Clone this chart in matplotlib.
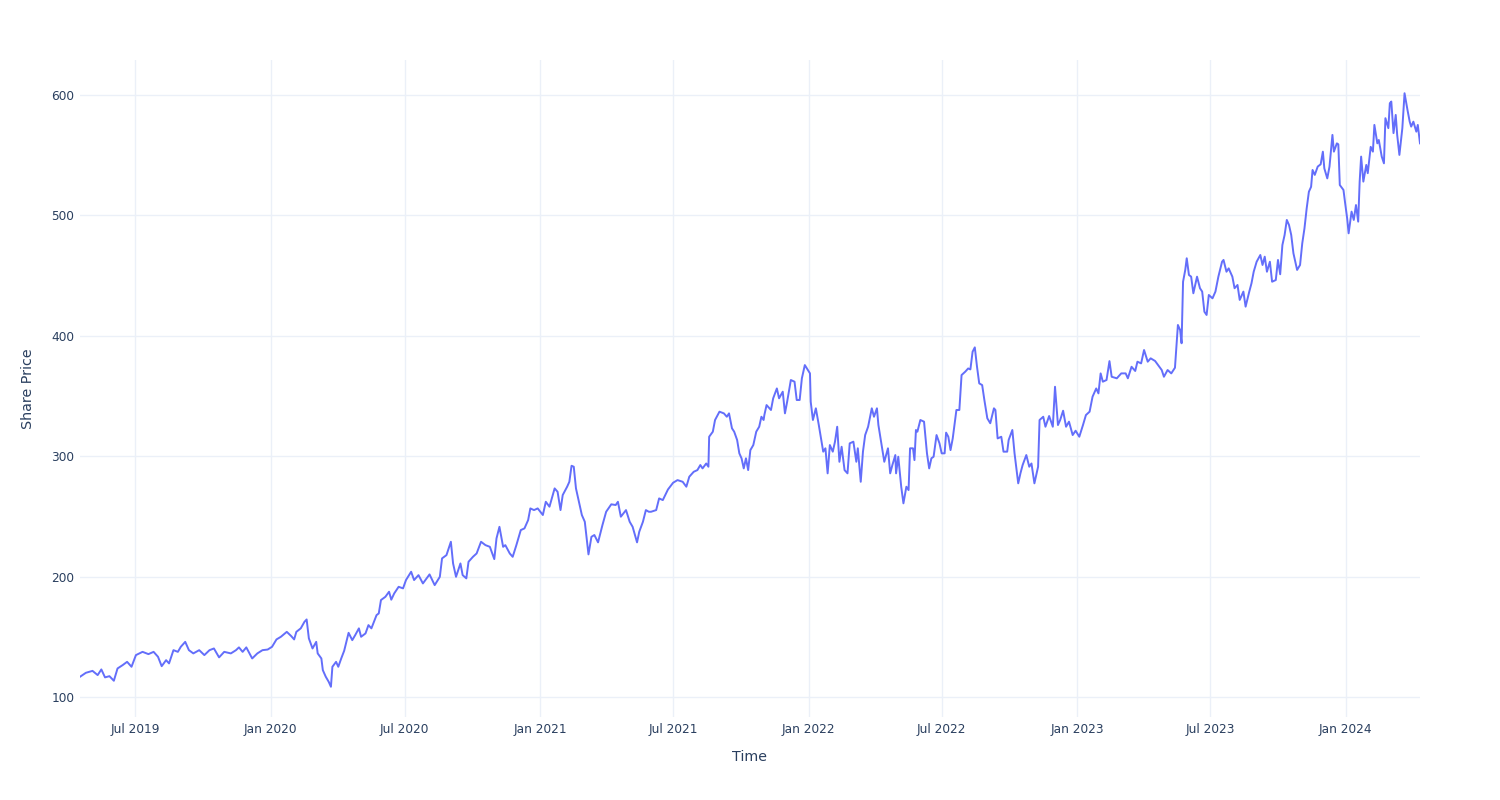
import pandas as pd
import matplotlib.pyplot as plt
import matplotlib.dates as mdates

# Share price readings (date, price)
dates = [
    "2019-04-17", "2019-04-25", "2019-05-04", "2019-05-11", "2019-05-16", "2019-05-21", "2019-05-27",
    "2019-06-02", "2019-06-07", "2019-06-14", "2019-06-20", "2019-06-26", "2019-07-02", "2019-07-11",
    "2019-07-19", "2019-07-26", "2019-08-01", "2019-08-06", "2019-08-12", "2019-08-16", "2019-08-22",
    "2019-08-28", "2019-09-01", "2019-09-07", "2019-09-12", "2019-09-18", "2019-09-26", "2019-10-03",
    "2019-10-10", "2019-10-16", "2019-10-23", "2019-10-30", "2019-11-08", "2019-11-15", "2019-11-19",
    "2019-11-24", "2019-11-29", "2019-12-07", "2019-12-14", "2019-12-21", "2019-12-28",
    "2020-01-03", "2020-01-09", "2020-01-15", "2020-01-23", "2020-01-29", "2020-02-02", "2020-02-05",
    "2020-02-11", "2020-02-16", "2020-02-19", "2020-02-22", "2020-02-27", "2020-03-03", "2020-03-05",
    "2020-03-10", "2020-03-12", "2020-03-16", "2020-03-20", "2020-03-23", "2020-03-25", "2020-03-30",
    "2020-04-02", "2020-04-06", "2020-04-10", "2020-04-16", "2020-04-21", "2020-04-25", "2020-04-30",
    "2020-05-03", "2020-05-09", "2020-05-13", "2020-05-17", "2020-05-24", "2020-05-27", "2020-05-30",
    "2020-06-05", "2020-06-10", "2020-06-13", "2020-06-17", "2020-06-23", "2020-06-29", "2020-07-03",
    "2020-07-10", "2020-07-14", "2020-07-20", "2020-07-26", "2020-08-04", "2020-08-11", "2020-08-18",
    "2020-08-21", "2020-08-27", "2020-09-02", "2020-09-05", "2020-09-09", "2020-09-15", "2020-09-18",
    "2020-09-23", "2020-09-26", "2020-10-02", "2020-10-07", "2020-10-13", "2020-10-19", "2020-10-25",
    "2020-10-31", "2020-11-03", "2020-11-07", "2020-11-12", "2020-11-15", "2020-11-21", "2020-11-25",
    "2020-11-30", "2020-12-06", "2020-12-11", "2020-12-16", "2020-12-19", "2020-12-24", "2020-12-29",
    "2021-01-05", "2021-01-09", "2021-01-14", "2021-01-21", "2021-01-25", "2021-01-29", "2021-02-01",
    "2021-02-07", "2021-02-10", "2021-02-13", "2021-02-16", "2021-02-19", "2021-02-24", "2021-02-27",
    "2021-03-03", "2021-03-05", "2021-03-08", "2021-03-12", "2021-03-16", "2021-03-21", "2021-03-27",
    "2021-04-01", "2021-04-08", "2021-04-14", "2021-04-17", "2021-04-21", "2021-04-28", "2021-05-03",
    "2021-05-07", "2021-05-13", "2021-05-16", "2021-05-21", "2021-05-25", "2021-05-29", "2021-06-01",
    "2021-06-08", "2021-06-12", "2021-06-17", "2021-06-24", "2021-07-01", "2021-07-07", "2021-07-14",
    "2021-07-19", "2021-07-23", "2021-07-29", "2021-08-03", "2021-08-07", "2021-08-10", "2021-08-15",
    "2021-08-18", "2021-08-19", "2021-08-24", "2021-08-27", "2021-09-02", "2021-09-08", "2021-09-12",
    "2021-09-15", "2021-09-19", "2021-09-22", "2021-09-26", "2021-09-29", "2021-10-02", "2021-10-05",
    "2021-10-08", "2021-10-11", "2021-10-14", "2021-10-18", "2021-10-22", "2021-10-26", "2021-10-29",
    "2021-11-01", "2021-11-02", "2021-11-05", "2021-11-11", "2021-11-14", "2021-11-19", "2021-11-22",
    "2021-11-27", "2021-11-30", "2021-12-03", "2021-12-08", "2021-12-13", "2021-12-16", "2021-12-20",
    "2021-12-23", "2021-12-27",
    "2022-01-03", "2022-01-04", "2022-01-07", "2022-01-11", "2022-01-15", "2022-01-18", "2022-01-21",
    "2022-01-24", "2022-01-27", "2022-01-30", "2022-02-03", "2022-02-06", "2022-02-09", "2022-02-12",
    "2022-02-15", "2022-02-19", "2022-02-23", "2022-02-26", "2022-03-03", "2022-03-07", "2022-03-09",
    "2022-03-13", "2022-03-16", "2022-03-19", "2022-03-23", "2022-03-28", "2022-03-31", "2022-04-04",
    "2022-04-06", "2022-04-10", "2022-04-14", "2022-04-19", "2022-04-22", "2022-04-25", "2022-04-29",
    "2022-04-30", "2022-05-03", "2022-05-07", "2022-05-10", "2022-05-14", "2022-05-17", "2022-05-19",
    "2022-05-23", "2022-05-25", "2022-05-27", "2022-05-29", "2022-06-02", "2022-06-07", "2022-06-11",
    "2022-06-14", "2022-06-17", "2022-06-20", "2022-06-24", "2022-06-28", "2022-07-01", "2022-07-05",
    "2022-07-07", "2022-07-10", "2022-07-13", "2022-07-16", "2022-07-21", "2022-07-25", "2022-07-28",
    "2022-08-02", "2022-08-06", "2022-08-09", "2022-08-12", "2022-08-15", "2022-08-18", "2022-08-21",
    "2022-08-25", "2022-08-28", "2022-09-01", "2022-09-05", "2022-09-10", "2022-09-12", "2022-09-15",
    "2022-09-20", "2022-09-23", "2022-09-28", "2022-09-30", "2022-10-05", "2022-10-08", "2022-10-13",
    "2022-10-16", "2022-10-19", "2022-10-24", "2022-10-28", "2022-10-31", "2022-11-04", "2022-11-09",
    "2022-11-11", "2022-11-16", "2022-11-19", "2022-11-24", "2022-11-29", "2022-12-02", "2022-12-06",
    "2022-12-09", "2022-12-13", "2022-12-17", "2022-12-21", "2022-12-26", "2022-12-30",
    "2023-01-04", "2023-01-09", "2023-01-13", "2023-01-18", "2023-01-22", "2023-01-27", "2023-01-30",
    "2023-02-02", "2023-02-05", "2023-02-10", "2023-02-14", "2023-02-17", "2023-02-24", "2023-03-02",
    "2023-03-08", "2023-03-11", "2023-03-16", "2023-03-21", "2023-03-24", "2023-03-29", "2023-04-02",
    "2023-04-07", "2023-04-11", "2023-04-17", "2023-04-21", "2023-04-26", "2023-04-29", "2023-05-04",
    "2023-05-09", "2023-05-14", "2023-05-18", "2023-05-21", "2023-05-23", "2023-05-25", "2023-05-28",
    "2023-05-30", "2023-06-02", "2023-06-05", "2023-06-08", "2023-06-13", "2023-06-17", "2023-06-20",
    "2023-06-23", "2023-06-26", "2023-06-29", "2023-07-04", "2023-07-08", "2023-07-12", "2023-07-17",
    "2023-07-19", "2023-07-23", "2023-07-26", "2023-07-31", "2023-08-03", "2023-08-07", "2023-08-10",
    "2023-08-15", "2023-08-18", "2023-08-23", "2023-08-26", "2023-08-29", "2023-09-02", "2023-09-07",
    "2023-09-10", "2023-09-13", "2023-09-16", "2023-09-20", "2023-09-23", "2023-09-28", "2023-10-01",
    "2023-10-04", "2023-10-07", "2023-10-10", "2023-10-13", "2023-10-16", "2023-10-19", "2023-10-22",
    "2023-10-27", "2023-10-31", "2023-11-03", "2023-11-06", "2023-11-09", "2023-11-12", "2023-11-15",
    "2023-11-17", "2023-11-20", "2023-11-24", "2023-11-28", "2023-12-01", "2023-12-03", "2023-12-07",
    "2023-12-10", "2023-12-14", "2023-12-16", "2023-12-20", "2023-12-22", "2023-12-24", "2023-12-29",
    "2023-12-31",
    "2024-01-03", "2024-01-05", "2024-01-09", "2024-01-12", "2024-01-15", "2024-01-18", "2024-01-20",
    "2024-01-22", "2024-01-25", "2024-01-29", "2024-01-31", "2024-02-04", "2024-02-07", "2024-02-09",
    "2024-02-13", "2024-02-15", "2024-02-19", "2024-02-22", "2024-02-24", "2024-02-28", "2024-03-01",
    "2024-03-03", "2024-03-06", "2024-03-09", "2024-03-11", "2024-03-14", "2024-03-18", "2024-03-21",
    "2024-03-25", "2024-03-28", "2024-03-30", "2024-04-02", "2024-04-06", "2024-04-08", "2024-04-11",
]

prices = [
    116.9, 120.2, 121.8, 118.3, 123.0, 116.4, 117.4,
    113.6, 123.8, 126.6, 129.3, 125.2, 134.9, 137.6,
    135.7, 137.6, 133.5, 125.7, 130.7, 128.0, 139.0,
    137.6, 141.8, 145.9, 139.0, 136.3, 139.0, 134.9,
    139.0, 140.4, 133.0, 137.6, 136.3, 139.0, 141.3,
    137.6, 141.3, 132.1, 136.3, 139.0, 139.5,
    141.8, 147.9, 150.1, 154.2, 150.7, 147.9, 154.2,
    157.1, 162.5, 164.5, 148.8, 140.4, 145.9, 136.3,
    132.1, 122.4, 116.9, 112.7, 108.6, 125.2, 129.3,
    125.2, 132.1, 138.5, 153.4, 147.3, 151.5, 157.1,
    150.1, 152.9, 159.8, 157.1, 168.1, 169.5, 180.6,
    183.3, 187.5, 180.9, 186.1, 191.6, 190.3, 197.2,
    204.1, 197.2, 201.3, 194.4, 201.9, 193.0, 199.9,
    215.2, 217.9, 229.0, 211.0, 199.9, 211.0, 201.3,
    198.6, 212.4, 216.5, 219.3, 229.0, 226.2, 224.8,
    214.6, 231.8, 241.4, 224.8, 226.2, 219.3, 216.5,
    226.2, 238.7, 240.1, 247.0, 256.7, 255.3, 256.7,
    251.2, 262.2, 258.1, 273.3, 270.5, 255.3, 267.8,
    274.7, 278.8, 292.1, 291.3, 273.3, 259.5, 251.2,
    245.6, 234.6, 218.5, 233.1, 234.6, 228.5, 242.9,
    253.9, 260.1, 259.5, 262.2, 249.8, 255.3, 245.6,
    241.4, 228.5, 237.3, 245.6, 255.3, 253.9, 253.9,
    255.3, 265.0, 263.6, 272.4, 278.0, 280.2, 278.8,
    274.7, 283.0, 287.1, 288.5, 292.7, 289.9, 294.0,
    291.3, 316.2, 320.4, 330.1, 337.0, 335.6, 332.8,
    335.6, 323.2, 320.4, 313.5, 302.4, 298.3, 289.9,
    298.3, 288.5, 305.1, 309.3, 320.4, 324.5, 332.8,
    330.1, 334.2, 342.5, 338.4, 348.1, 356.3, 348.1,
    353.6, 335.6, 345.3, 363.3, 361.9, 346.7, 346.7,
    364.7, 375.7,
    368.8, 345.3, 330.1, 339.8, 325.9, 314.9, 303.8,
    306.6, 285.8, 309.3, 303.8, 312.1, 324.5, 295.4,
    307.9, 288.5, 285.8, 310.7, 312.1, 295.4, 306.6,
    278.8, 303.8, 317.6, 324.5, 339.8, 332.8, 339.8,
    325.9, 310.7, 295.4, 306.6, 285.8, 292.7, 301.0,
    285.8, 299.6, 274.7, 260.9, 274.7, 271.9, 306.6,
    306.6, 296.8, 321.8, 320.4, 330.1, 328.7, 302.4,
    289.9, 298.3, 299.6, 317.6, 310.7, 302.4, 302.4,
    319.6, 316.2, 305.1, 314.8, 338.4, 338.4, 367.4,
    370.2, 372.9, 372.1, 386.8, 390.4, 374.3, 360.5,
    359.1, 346.7, 331.5, 327.4, 339.8, 338.4, 314.8,
    316.2, 303.8, 303.8, 313.5, 321.8, 302.4, 277.5,
    285.8, 292.7, 301.0, 291.3, 294.0, 277.5, 291.3,
    330.1, 332.8, 324.5, 333.4, 324.5, 357.7, 325.9,
    330.1, 337.8, 324.5, 328.7, 317.6, 321.2,
    316.2, 325.9, 334.2, 337.0, 349.4, 356.3, 352.2,
    368.8, 361.9, 363.3, 379.0, 366.0, 364.7, 368.8,
    368.8, 364.7, 374.3, 370.8, 378.5, 377.1, 388.2,
    378.5, 381.3, 379.1, 375.7, 371.6, 366.0, 371.6,
    368.8, 373.5, 409.0, 404.8, 393.8, 444.9, 454.7,
    464.4, 450.5, 449.1, 435.3, 449.1, 439.5, 436.7,
    420.0, 417.3, 433.9, 431.1, 436.7, 449.1, 461.5,
    463.0, 453.2, 456.0, 449.1, 439.5, 442.2, 429.8,
    436.7, 424.2, 436.7, 443.6, 453.2, 461.5, 467.1,
    458.8, 465.7, 453.2, 461.5, 444.9, 446.3, 463.0,
    451.1, 475.4, 483.7, 496.2, 492.0, 483.7, 468.5,
    454.7, 458.8, 476.8, 489.2, 505.8, 519.6, 523.7,
    537.7, 533.6, 540.5, 542.4, 552.9, 539.0, 530.7,
    540.5, 566.8, 552.9, 559.8, 559.0, 525.2, 521.1,
    511.4,
    497.6, 485.1, 503.1, 496.2, 508.6, 494.8, 528.0,
    548.8, 528.0, 541.9, 535.0, 556.9, 552.9, 575.1,
    559.8, 562.6, 548.8, 543.2, 580.7, 572.4, 593.1,
    594.5, 568.3, 583.4, 566.8, 550.2, 572.4, 601.4,
    587.5, 577.8, 573.7, 577.8, 569.5, 575.1, 559.8,
]

y_ticks = [100, 200, 300, 400, 500, 600]

df = pd.DataFrame({"Time": pd.to_datetime(dates), "Share Price": prices})

text_color = "#2a3f5f"
grid_color = "#ebf0f8"

fig = plt.figure(figsize=(15, 8), dpi=100)
ax = fig.add_axes([80 / 1500, 83 / 800, 1340 / 1500, 657 / 800])

ax.plot(df["Time"], df["Share Price"], color="#636efa", linewidth=1.4)

ax.set_xlim(df["Time"].min(), df["Time"].max())
ax.set_ylim(83.5, 629)
ax.set_yticks(y_ticks)

ax.xaxis.set_major_locator(mdates.MonthLocator(bymonth=[1, 7]))
ax.xaxis.set_major_formatter(mdates.DateFormatter("%b %Y"))

ax.grid(True, color=grid_color, linewidth=1)
ax.set_axisbelow(True)
for s in ax.spines.values():
    s.set_visible(False)
ax.tick_params(axis="both", length=0, labelsize=8.7, colors=text_color)
ax.tick_params(axis="x", pad=4)
ax.tick_params(axis="y", pad=4)

ax.set_xlabel("Time", fontsize=10.3, color=text_color, labelpad=10.5)
ax.set_ylabel("Share Price", fontsize=10.3, color=text_color, labelpad=11.5)

fig.savefig("out.png", dpi=100, facecolor="white")
